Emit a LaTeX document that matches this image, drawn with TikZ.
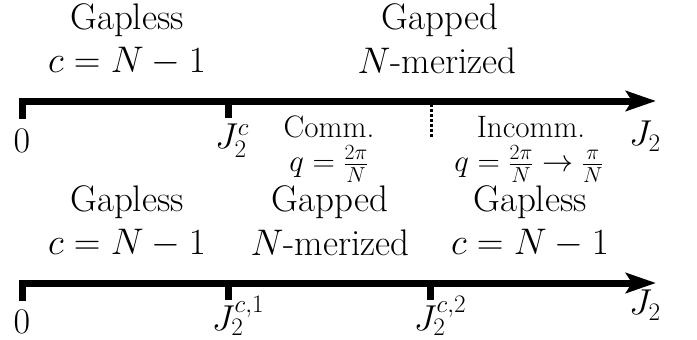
\RequirePackage{fix-cm}
\documentclass[tikz,border=0pt]{standalone}
\usetikzlibrary{arrows.meta, positioning, calc}

\begin{document}
\begin{tikzpicture}[
  x=1pt, y=-1pt,
  axis/.style={line width=7pt, -{Stealth[length=30pt, width=20pt, inset=6pt]}},
  tick/.style={line width=7pt},
  phase/.style={font=\fontsize{37}{42}\selectfont, align=center},
  note/.style={font=\fontsize{31}{36}\selectfont, align=center},
  lbl/.style={font=\fontsize{36}{40}\selectfont},
]
\useasboundingbox (0,0) rectangle (697,340);

% ---- Upper line: single transition ----
\coordinate (a0) at (22,101);
\coordinate (aEnd) at (656,101);
\coordinate (aC) at (228,101);
\coordinate (aD) at (431,101);
\draw[axis] (a0) -- (aEnd);
\draw[tick] ($(a0)+(0,-3.5)$) -- ++(0,21);
\draw[tick] (aC) -- ++(0,17);
\draw[line width=3pt, dotted] ($(aD)+(0,3)$) -- ++(0,33);

\node[lbl] (t0) at (22,141) {$0$};
\node[lbl] (tC) at (232,141) {$J_2^c$};
\node[lbl] (tJ) at (645,136) {$J_2$};

\node[phase] (p1a) at (127,20) {Gapless};
\node[phase] (p1b) at (127,61) {$c=N-1$};
\node[phase] (p2a) at (440,20) {Gapped};
\node[phase] (p2b) at (437,61) {$N$-merized};

\node[note] (comm) at (329,127) {Comm.};
\node[note] (qC) at (329,164) {$q=\frac{2\pi}{N}$};
\node[note] (incomm) at (531,127) {Incomm.};
\node[note] (qI) at (529,164) {$q=\frac{2\pi}{N}\to\frac{\pi}{N}$};

% ---- Lower line: two transitions ----
\coordinate (b0) at (22,283);
\coordinate (bEnd) at (656,283);
\coordinate (b1) at (228,283);
\coordinate (b2) at (430,283);
\draw[axis] (b0) -- (bEnd);
\draw[tick] ($(b0)+(0,-3.5)$) -- ++(0,21);
\draw[tick] (b1) -- ++(0,17);
\draw[tick] (b2) -- ++(0,17);

\node[lbl] (s0) at (22,322) {$0$};
\node[lbl] (s1) at (238,316) {$J_2^{c,1}$};
\node[lbl] (s2) at (440,316) {$J_2^{c,2}$};
\node[lbl] (sJ) at (645,305) {$J_2$};

\node[phase] (q1a) at (127,202) {Gapless};
\node[phase] (q1b) at (127,243) {$c=N-1$};
\node[phase] (q2a) at (330,202) {Gapped};
\node[phase] (q2b) at (330,243) {$N$-merized};
\node[phase] (q3a) at (530,202) {Gapless};
\node[phase] (q3b) at (530,243) {$c=N-1$};

\end{tikzpicture}
\end{document}
